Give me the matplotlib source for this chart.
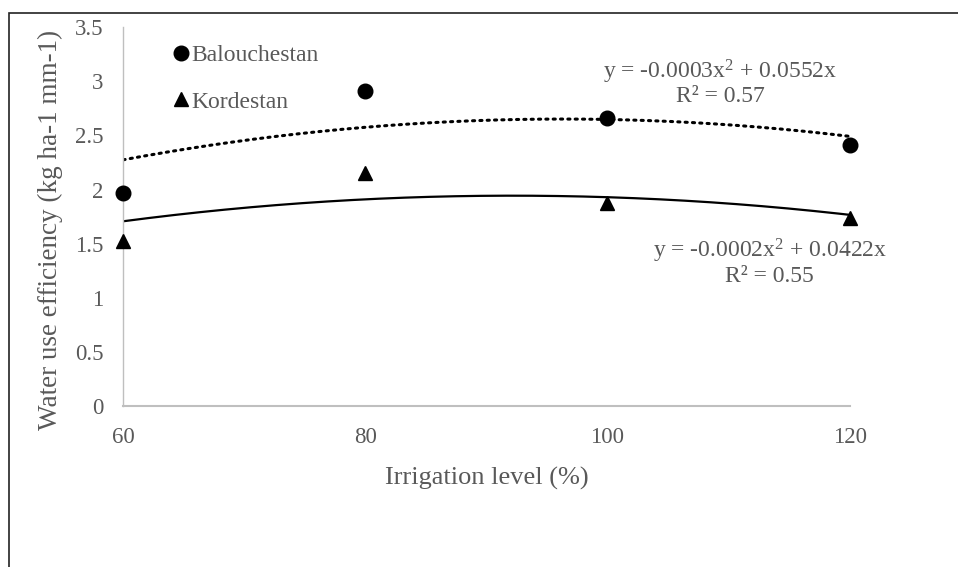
import numpy as np
import matplotlib
matplotlib.use("Agg")
import matplotlib.pyplot as plt
from matplotlib.patches import Rectangle

plt.rcParams['font.family'] = ['Liberation Serif', 'DejaVu Serif']
plt.rcParams['mathtext.fontset'] = 'custom'
plt.rcParams['mathtext.rm'] = 'Liberation Serif'
plt.rcParams['mathtext.it'] = 'Liberation Serif'

irrigation = [60, 80, 100, 120]
balouchestan = [1.97, 2.91, 2.66, 2.41]
kordestan = [1.52, 2.15, 1.88, 1.74]

eq_balou = "y = -0.0003x$^{\\mathrm{2}}$ + 0.0552x\nR² = 0.57"
eq_korde = "y = -0.0002x$^{\\mathrm{2}}$ + 0.0422x\nR² = 0.55"

txt = '#595959'


def fit_origin_quad(x, y):
    # quadratic trend forced through the origin, like Excel's trendline
    x = np.asarray(x, float)
    A = np.column_stack([x ** 2, x])
    coef, *_ = np.linalg.lstsq(A, np.asarray(y, float), rcond=None)
    return coef


fig = plt.figure(figsize=(9.58, 5.67), dpi=100)
ax = fig.add_axes([0.1284, 0.284, 0.7586, 0.668])

xs = np.linspace(60, 120, 200)
a, b = fit_origin_quad(irrigation, balouchestan)
ax.plot(xs, a * xs ** 2 + b * xs, color='black', lw=2.2, ls=(0, (0.7, 1.7)),
        dash_capstyle='round', zorder=2)
a, b = fit_origin_quad(irrigation, kordestan)
ax.plot(xs, a * xs ** 2 + b * xs, color='black', lw=1.6, zorder=2)

ax.plot(irrigation, balouchestan, 'o', color='black', ms=10.5, clip_on=False,
        zorder=3, label='Balouchestan')
ax.plot(irrigation, kordestan, '^', color='black', ms=10.5, clip_on=False,
        zorder=3, label='Kordestan')

ax.set_xlim(60, 120)
ax.set_ylim(0, 3.5)
ax.set_xticks(irrigation)
ax.set_yticks(np.arange(0, 3.51, 0.5))
ax.set_yticklabels(['0', '0.5', '1', '1.5', '2', '2.5', '3', '3.5'])

for s in ['top', 'right']:
    ax.spines[s].set_visible(False)
ax.spines['left'].set_color('#bfbfbf')
ax.spines['left'].set_linewidth(1)
ax.spines['bottom'].set_color('#bfbfbf')
ax.spines['bottom'].set_linewidth(1.5)
ax.tick_params(length=0, labelsize=16.5, labelcolor=txt)
ax.tick_params(axis='x', pad=15)
ax.tick_params(axis='y', pad=14)

ax.set_xlabel('Irrigation level (%)', fontsize=19, color=txt, labelpad=14)
ax.set_ylabel('Water use efficiency (kg ha-1 mm-1)', fontsize=19.5, color=txt)
ax.yaxis.set_label_coords(-0.083, 0.465)

leg = ax.legend(loc='upper left', bbox_to_anchor=(0.041, 1.01), frameon=False,
                handlelength=0.6, handletextpad=0.15, labelspacing=1.05,
                fontsize=17)
for t in leg.get_texts():
    t.set_color(txt)

ax.text(109.3, 2.99, eq_balou, ha='center', va='center', fontsize=17,
        color=txt, linespacing=1.05)
ax.text(113.4, 1.33, eq_korde, ha='center', va='center', fontsize=17,
        color=txt, linespacing=1.05)

fig.patches.append(Rectangle((9 / 958, -0.1), 1.2, 1 - 13 / 567 + 0.1,
                             transform=fig.transFigure, fill=False,
                             edgecolor='#222222', lw=1.2))

fig.savefig('out.png', dpi=100)
